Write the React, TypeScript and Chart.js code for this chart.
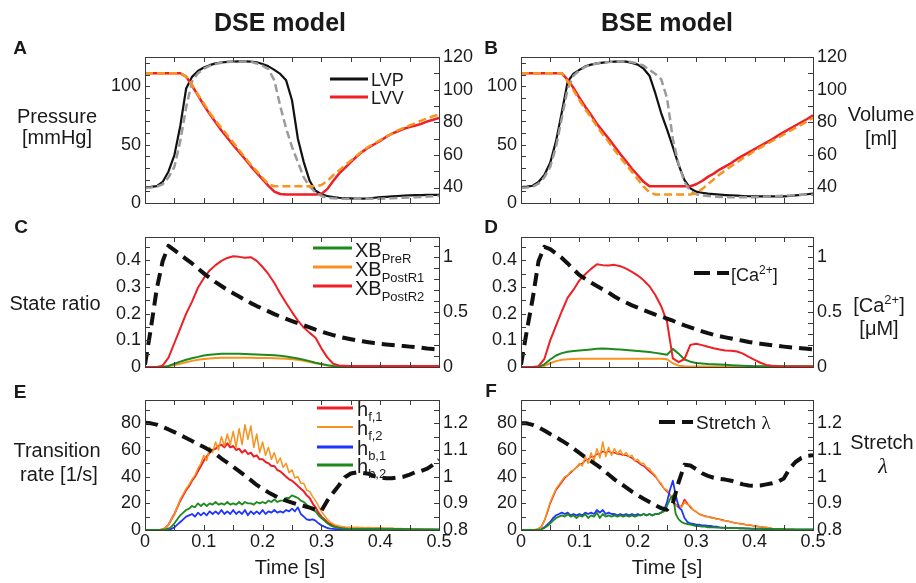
import React, { useEffect, useRef } from "react";
import { Chart, registerables } from "chart.js";

Chart.register(...registerables);

const W = 916;
const H = 583;
const FONT = '"Liberation Sans", Arial, Helvetica, sans-serif';
const TEXT = "#1a1a1a";

const BLACK = "#111111";
const GRAY = "#9a9a9a";
const RED = "#ee1f25";
const ORANGE = "#f7931e";
const GREEN = "#1d8a1d";
const BLUE = "#1f35ff";

// ---------- time grids (s) ----------
const TIME_01 = Array.from({ length: 51 }, (_, i) => +(i * 0.01).toFixed(2));
const TIME_005 = Array.from({ length: 101 }, (_, i) => +(i * 0.005).toFixed(3));

// ---------- tick labels ----------
const X_TICKS = [0, 0.1, 0.2, 0.3, 0.4, 0.5];
const PRESSURE_TICKS = [0, 50, 100];
const VOLUME_TICKS = [40, 60, 80, 100, 120];
const RATIO_TICKS = [0, 0.1, 0.2, 0.3, 0.4];
const CA_TICKS = [0, 0.5, 1];
const RATE_TICKS = [0, 20, 40, 60, 80];
const STRETCH_TICKS = [0.8, 0.9, 1, 1.1, 1.2];

// ---------- Panel A (DSE): pressure [mmHg] / volume [ml] ----------
const A_LVP = [13.6, 13.8, 14.5, 18, 27, 41, 66, 98, 108, 113, 116, 118, 119.5, 120.3, 120.8, 121.1, 121.3, 121.3, 121, 120.5, 119, 117, 114, 110.5, 105, 88, 55, 35, 19, 10.5, 7.5, 6, 5, 4.5, 4.2, 4, 3.8, 3.8, 4, 4.5, 5, 5.3, 5.7, 6, 6.3, 6.5, 6.7, 6.8, 6.9, 7, 7];
const A_LVP_MODEL = [13, 13.3, 14, 16, 22, 31, 53, 82, 104, 111, 115, 117.5, 119, 120, 120.7, 121, 121.2, 121.2, 120.8, 119.5, 117.5, 114.5, 105, 83, 64, 48, 35, 22, 14, 9, 6, 4.5, 4, 3.7, 3.6, 3.6, 3.6, 3.6, 3.6, 3.7, 3.7, 3.8, 4, 4.2, 4.5, 4.7, 5, 5.2, 5.5, 5.7, 6];
const A_LVV = [110, 110, 110, 110, 110, 110, 110, 108, 102.5, 96.5, 90.5, 85, 80, 75, 70.5, 66, 61.8, 57.5, 53, 49, 45, 41, 37.5, 36, 35.7, 35.7, 35.7, 35.7, 35.7, 35.7, 36, 39, 44, 48.5, 52, 55.5, 59, 62, 64.5, 66.5, 68.5, 71, 73, 74.5, 76, 77, 78, 79, 80.5, 81.5, 82.7];
const A_LVV_MODEL = [110, 110, 110, 110, 110, 110, 110, 108, 103, 97, 91.5, 86, 81, 76.5, 72, 67.5, 63, 58.5, 54, 50, 46, 42, 40.8, 40.8, 40.8, 40.8, 40.8, 40.8, 40.8, 40.8, 41.5, 44, 47.5, 50.5, 53.5, 56.5, 59.5, 62.5, 65, 67, 69, 71, 73, 75, 76.5, 78, 79.5, 81, 82.5, 83.7, 84.7];

// ---------- Panel B (BSE) ----------
const B_LVP = [13.6, 14, 14.8, 18, 24, 34.5, 53, 78, 104, 110.8, 114, 117, 118.5, 119.5, 120.2, 120.7, 121, 121.3, 121, 120, 118.5, 115, 109, 94, 77, 63, 48, 32.5, 19.5, 12.5, 9.7, 8.8, 8, 7.6, 7.2, 6.8, 6.5, 6.3, 6, 5.8, 5.7, 5.7, 5.7, 5.7, 5.7, 5.7, 6, 6.5, 7, 7.5, 8];
const B_LVP_MODEL = [13, 13.3, 14, 16.5, 22, 31, 48, 73, 98, 109, 113.5, 116.5, 118.5, 119.5, 120.3, 120.8, 121.1, 121.3, 121.2, 120.5, 119.5, 117.5, 114, 110.5, 106, 90, 55, 33, 18, 10, 7.5, 6.5, 6, 5.5, 5.2, 5, 5, 5, 5, 5, 5, 5.2, 5.5, 5.7, 6, 6.2, 6.5, 6.7, 7, 7, 7];
const B_LVV = [110, 110, 110, 110, 110, 110, 110, 110, 106, 101, 95, 89.5, 84.5, 79, 74.5, 70, 65.3, 60.5, 56, 51.5, 47.5, 43.5, 40.8, 40.8, 40.8, 40.8, 40.8, 40.8, 40.8, 40.8, 42, 44, 46.5, 48.5, 51, 53, 55, 57.5, 59.5, 61.5, 63.5, 65.5, 67.5, 69.5, 71.8, 74, 76, 78, 80, 82, 84.3];
const B_LVV_MODEL = [110, 110, 110, 110, 110, 110, 110, 110, 105, 99.5, 93.5, 88, 83, 77.5, 72.5, 68, 63, 58.5, 54, 49.5, 45, 40.5, 37, 35.7, 35.7, 35.7, 35.7, 35.7, 35.7, 35.7, 36.5, 39, 42, 45, 48, 50.5, 53, 55.5, 58, 60, 62.5, 64.5, 66.5, 68.5, 70.5, 72.5, 74.5, 76.5, 78.5, 80.5, 82.7];

// ---------- Panel C (DSE): state ratio / [Ca2+] ----------
const C_CA = [0.02, 0.35, 0.71, 0.96, 1.1, 1.06, 1.02, 0.98, 0.94, 0.895, 0.85, 0.81, 0.77, 0.735, 0.7, 0.67, 0.64, 0.61, 0.58, 0.553, 0.53, 0.505, 0.48, 0.458, 0.437, 0.417, 0.398, 0.378, 0.36, 0.34, 0.322, 0.305, 0.29, 0.275, 0.263, 0.252, 0.242, 0.233, 0.225, 0.217, 0.211, 0.205, 0.2, 0.195, 0.19, 0.185, 0.18, 0.175, 0.168, 0.163, 0.158];
const C_POSTR2 = [0, 0, 0, 0.005, 0.035, 0.09, 0.145, 0.2, 0.245, 0.297, 0.333, 0.362, 0.382, 0.398, 0.409, 0.415, 0.413, 0.41, 0.412, 0.398, 0.375, 0.348, 0.315, 0.276, 0.24, 0.206, 0.174, 0.148, 0.128, 0.11, 0.07, 0.036, 0.012, 0.006, 0.005, 0.004, 0.004, 0.004, 0.004, 0.004, 0.004, 0.004, 0.004, 0.004, 0.004, 0.004, 0.004, 0.004, 0.004, 0.004, 0.004];
const C_PRER = [0, 0, 0, 0, 0.004, 0.012, 0.02, 0.027, 0.033, 0.038, 0.043, 0.046, 0.048, 0.05, 0.05, 0.05, 0.05, 0.049, 0.048, 0.047, 0.046, 0.045, 0.044, 0.042, 0.039, 0.036, 0.032, 0.027, 0.022, 0.016, 0.011, 0.007, 0.004, 0.003, 0.002, 0.002, 0.002, 0.002, 0.002, 0.002, 0.002, 0.002, 0.002, 0.002, 0.002, 0.002, 0.002, 0.002, 0.002, 0.002, 0.002];
const C_POSTR1 = [0, 0, 0, 0, 0.002, 0.007, 0.012, 0.018, 0.023, 0.027, 0.03, 0.032, 0.034, 0.035, 0.035, 0.035, 0.035, 0.035, 0.035, 0.034, 0.034, 0.034, 0.033, 0.032, 0.031, 0.029, 0.027, 0.023, 0.019, 0.014, 0.01, 0.006, 0.003, 0.002, 0.002, 0.002, 0.002, 0.002, 0.002, 0.002, 0.002, 0.002, 0.002, 0.002, 0.002, 0.002, 0.002, 0.002, 0.002, 0.002, 0.002];

// ---------- Panel D (BSE) ----------
const D_CA = [0.02, 0.33, 0.62, 0.96, 1.09, 1.07, 1.03, 0.99, 0.94, 0.885, 0.835, 0.8, 0.765, 0.735, 0.705, 0.675, 0.64, 0.61, 0.585, 0.559, 0.538, 0.517, 0.496, 0.476, 0.458, 0.44, 0.42, 0.398, 0.377, 0.36, 0.342, 0.324, 0.307, 0.292, 0.28, 0.269, 0.259, 0.248, 0.238, 0.227, 0.219, 0.212, 0.205, 0.198, 0.191, 0.185, 0.18, 0.175, 0.17, 0.165, 0.16];
const D_POSTR2 = [0, 0, 0, 0.003, 0.03, 0.1, 0.155, 0.21, 0.26, 0.29, 0.325, 0.348, 0.368, 0.385, 0.382, 0.381, 0.383, 0.378, 0.369, 0.357, 0.343, 0.325, 0.303, 0.27, 0.228, 0.17, 0.032, 0.018, 0.03, 0.083, 0.087, 0.082, 0.076, 0.07, 0.066, 0.062, 0.061, 0.058, 0.05, 0.038, 0.027, 0.016, 0.008, 0.005, 0.003, 0.002, 0.002, 0.002, 0.002, 0.002, 0.002];
const D_PRER = [0, 0, 0, 0, 0.01, 0.028, 0.043, 0.052, 0.057, 0.06, 0.062, 0.064, 0.066, 0.068, 0.069, 0.068, 0.067, 0.066, 0.064, 0.062, 0.06, 0.058, 0.056, 0.053, 0.05, 0.046, 0.068, 0.05, 0.028, 0.02, 0.015, 0.013, 0.011, 0.01, 0.009, 0.008, 0.007, 0.006, 0.005, 0.004, 0.003, 0.003, 0.003, 0.003, 0.003, 0.003, 0.003, 0.003, 0.003, 0.003, 0.003];
const D_POSTR1 = [0, 0, 0, 0, 0.004, 0.014, 0.022, 0.027, 0.029, 0.03, 0.031, 0.031, 0.031, 0.031, 0.031, 0.031, 0.031, 0.031, 0.031, 0.031, 0.031, 0.031, 0.031, 0.031, 0.031, 0.029, 0.014, 0.005, 0.003, 0.002, 0.002, 0.002, 0.002, 0.002, 0.002, 0.002, 0.002, 0.002, 0.002, 0.002, 0.002, 0.002, 0.002, 0.002, 0.002, 0.002, 0.002, 0.002, 0.002, 0.002, 0.002];

// ---------- Panel E (DSE): transition rates [1/s] (0.005 s grid) / stretch (0.01 s grid) ----------
const E_HF1 = [0, 0, 0, 0, 0, 0, 0.5, 1.5, 4, 8, 12, 17, 22, 26, 30, 33, 37, 40, 44, 48, 52, 55, 58, 60, 61, 63, 64, 62, 65, 62, 63, 60, 61, 58, 60, 57, 58, 55, 56, 53, 53, 51, 50, 48, 48, 45, 44, 42, 40, 38, 37, 35, 33, 31, 29, 26, 24, 20, 17, 13, 10, 8, 6, 4.5, 3.5, 2.5, 2, 1.8, 1.5, 1.4, 1.3, 1.4, 1.2, 1.3, 1.2, 1.3, 1.2, 1.2, 1.1, 1.2, 1.1, 1, 1, 0.9, 0.9, 0.8, 0.8, 0.7, 0.6, 0.6, 0.5, 0.4, 0.4, 0.3, 0.3, 0.2, 0.2, 0.1, 0.1, 0, 0];
const E_HF2 = [0, 0, 0, 0, 0, 0, 0.5, 1.5, 4, 8, 12, 17, 23, 27, 31, 34, 38, 41, 46, 50, 56, 52, 62, 58, 66, 60, 70, 63, 72, 64, 74, 62, 76, 64, 79, 68, 78, 62, 72, 58, 66, 56, 62, 53, 58, 50, 54, 47, 50, 43, 45, 39, 40, 35, 35, 30, 29, 25, 22, 18, 14, 11, 8, 6, 4.5, 3.5, 3, 2.5, 2.2, 2, 2.1, 1.9, 2, 1.8, 1.9, 1.7, 1.8, 1.6, 1.7, 1.5, 1.6, 1.5, 1.4, 1.4, 1.3, 1.2, 1.2, 1.1, 1, 1, 0.9, 0.8, 0.7, 0.6, 0.5, 0.4, 0.3, 0.2, 0.1, 0, 0];
const E_HB1 = [0, 0, 0, 0, 0, 0, 0, 0, 0.3, 0.8, 2, 4, 6, 8, 10, 11, 12, 10, 13, 11, 13, 11, 14, 12, 14, 12, 15, 12, 14, 12, 15, 12, 14, 12, 15, 11, 14, 12, 14, 12, 15, 12, 14, 13, 15, 13, 14, 13, 15, 14, 16, 14, 17, 12, 10, 8, 7.5, 8, 7, 5, 3.5, 2.5, 1.5, 1, 0.8, 0.6, 0.6, 0.6, 0.6, 0.6, 0.6, 0.6, 0.6, 0.6, 0.6, 0.6, 0.6, 0.4, 0.4, 0.4, 0.4, 0.4, 0.4, 0.4, 0.4, 0.4, 0.4, 0.4, 0.4, 0.2, 0.2, 0.2, 0.2, 0.2, 0.2, 0.2, 0.2, 0.2, 0.2, 0.2, 0.2];
const E_HB2 = [0, 0, 0, 0, 0, 0, 0, 0.5, 1, 2.5, 5, 8, 11, 13, 15, 16, 18, 17, 20, 18, 20, 18, 20, 19, 21, 19, 20, 19, 21, 19, 20, 19, 21, 19, 21, 20, 20, 19, 21, 20, 21, 20, 22, 21, 23, 21, 22, 22, 24, 24, 26, 25, 24, 22, 21, 19, 17, 15, 14, 11, 9, 7, 5, 3.5, 2.5, 2, 1.5, 1.2, 1, 0.8, 0.8, 0.8, 0.8, 0.8, 0.8, 0.8, 0.8, 0.8, 0.8, 0.8, 0.8, 0.6, 0.6, 0.6, 0.6, 0.6, 0.6, 0.6, 0.6, 0.6, 0.6, 0.4, 0.4, 0.4, 0.4, 0.4, 0.4, 0.4, 0.4, 0.4, 0.4];
const E_STRETCH = [1.202, 1.2, 1.195, 1.186, 1.177, 1.167, 1.156, 1.145, 1.134, 1.122, 1.111, 1.099, 1.085, 1.068, 1.053, 1.037, 1.021, 1.004, 0.987, 0.969, 0.955, 0.941, 0.929, 0.918, 0.91, 0.903, 0.896, 0.89, 0.884, 0.877, 0.872, 0.91, 0.94, 0.968, 0.998, 1.012, 1.016, 1.014, 1.011, 1.002, 0.997, 0.994, 0.994, 0.997, 1.0, 1.008, 1.017, 1.022, 1.03, 1.045, 1.063];

// ---------- Panel F (BSE) ----------
const F_HF1 = [0, 0, 0, 0, 0, 0.3, 1, 2.5, 7, 13, 20, 25, 30, 33, 36, 39, 41, 43, 45, 47, 49, 50, 52, 53, 55, 55, 57, 57, 59, 58, 59, 58, 58, 57, 57, 56, 56, 55, 54, 52, 51, 49, 48, 46, 44, 42, 40, 37, 34, 31, 29, 26, 22, 19, 17, 18, 23, 20, 17, 15, 13.5, 12, 11, 10.5, 10, 9.5, 9, 8.5, 8, 7.5, 7, 6.5, 6, 5.5, 5, 4.8, 4.5, 4, 3.8, 3.3, 3, 2.7, 2.4, 2.1, 1.8, 1.5, 1.2, 1, 0.8, 0.6, 0.5, 0.4, 0.3, 0.3, 0.2, 0.2, 0.1, 0.1, 0, 0, 0];
const F_HF2 = [0, 0, 0, 0, 0, 0.3, 1, 2.5, 7, 14, 21, 26, 31, 34, 37, 40, 41, 44, 45, 47, 50, 48, 55, 50, 58, 52, 61, 54, 66, 55, 62, 56, 61, 57, 60, 56, 58, 55, 56, 52, 53, 50, 50, 47, 46, 43, 41, 37, 35, 31, 30, 27, 22, 18, 19, 17, 21, 19, 18, 15, 14, 12, 11.5, 10, 10, 9, 9, 8, 8, 7, 7, 6.5, 6, 5.5, 5, 4.5, 4.5, 4, 4, 3.5, 3, 2.8, 2.5, 2.2, 2, 1.5, 1.2, 1, 0.8, 0.6, 0.5, 0.4, 0.3, 0.3, 0.2, 0.2, 0.1, 0.1, 0, 0, 0];
const F_HB1 = [0, 0, 0, 0, 0, 0, 0, 0.5, 2, 4, 6, 9, 11, 12, 13, 12, 13, 11, 12, 11, 12, 11, 13, 12, 13, 12, 15, 13, 15, 12, 13, 12, 12, 11, 12, 11, 12, 11, 12, 11, 12, 11, 12, 11, 12, 11, 12, 12, 13, 15, 21, 30, 37, 26, 17, 15, 9, 6, 5, 4.5, 4, 4, 3.5, 3.5, 3, 3, 2.5, 2.5, 2, 1.8, 1.8, 1.6, 1.6, 1.4, 1.4, 1.2, 1.2, 1, 1, 0.9, 0.9, 0.8, 0.8, 0.7, 0.7, 0.6, 0.6, 0.5, 0.5, 0.4, 0.4, 0.3, 0.3, 0.3, 0.3, 0.3, 0.3, 0.3, 0.3, 0.3, 0.3];
const F_HB2 = [0, 0, 0, 0, 0, 0, 0, 0.5, 1.5, 3, 5, 7, 9, 10, 11, 10, 12, 10, 11, 9, 11, 10, 12, 9, 11, 10, 13, 9, 12, 10, 11, 10, 11, 10, 11, 10, 11, 10, 11, 10, 11, 11, 12, 11, 12, 11, 12, 12, 13, 14, 18, 23, 26, 12, 8, 6, 5, 4.5, 4, 3.5, 3, 3, 2.5, 2.5, 2, 2, 2, 1.8, 1.8, 1.6, 1.6, 1.5, 1.5, 1.4, 1.4, 1.3, 1.3, 1.2, 1.2, 1.1, 1.1, 1, 1, 0.9, 0.9, 0.8, 0.8, 0.7, 0.7, 0.6, 0.6, 0.5, 0.5, 0.5, 0.5, 0.5, 0.5, 0.5, 0.5, 0.5, 0.5];
const F_STRETCH = [1.2, 1.2, 1.194, 1.185, 1.173, 1.16, 1.148, 1.135, 1.121, 1.105, 1.089, 1.073, 1.058, 1.043, 1.027, 1.008, 0.99, 0.975, 0.96, 0.944, 0.93, 0.917, 0.905, 0.893, 0.882, 0.876, 0.9, 0.98, 1.045, 1.042, 1.028, 1.013, 1.003, 0.996, 0.992, 0.989, 0.985, 0.978, 0.971, 0.967, 0.966, 0.967, 0.971, 0.975, 0.981, 0.993, 1.03, 1.055, 1.07, 1.078, 1.08];

// ---------- frame + inward tick marks ----------
const frameTicks = {
  id: "frameTicks",
  afterDraw(chart: any, _args: any, opts: any) {
    const { ctx, chartArea: a, scales } = chart;
    const len = 5;
    ctx.save();
    ctx.strokeStyle = "#3a3a3a";
    ctx.lineWidth = 1;
    const each = (scale: any, step: number, fn: (p: number) => void) => {
      if (!scale || !step) return;
      const k0 = Math.ceil(scale.min / step - 1e-6);
      const k1 = Math.floor(scale.max / step + 1e-6);
      for (let k = k0; k <= k1; k++) fn(Math.round(scale.getPixelForValue(k * step)) + 0.5);
    };
    ctx.beginPath();
    each(scales.x, opts.x, (px) => {
      ctx.moveTo(px, a.bottom);
      ctx.lineTo(px, a.bottom - len);
      ctx.moveTo(px, a.top);
      ctx.lineTo(px, a.top + len);
    });
    each(scales.y, opts.y, (py) => {
      ctx.moveTo(a.left, py);
      ctx.lineTo(a.left + len, py);
    });
    each(scales.y1, opts.y1, (py) => {
      ctx.moveTo(a.right, py);
      ctx.lineTo(a.right - len, py);
    });
    ctx.stroke();
    ctx.strokeRect(Math.round(a.left) + 0.5, Math.round(a.top) + 0.5, Math.round(a.right - a.left), Math.round(a.bottom - a.top));
    ctx.restore();
  },
};
Chart.register(frameTicks as any);

function series(label: string, t: number[], v: number[], color: string, width: number, axis: string, order: number, dash: number[] = []) {
  return {
    label,
    data: t.map((x, i) => ({ x, y: v[i] })),
    borderColor: color,
    backgroundColor: color,
    borderWidth: width,
    borderDash: dash,
    yAxisID: axis,
    pointRadius: 0,
    pointHoverRadius: 0,
    fill: false,
    tension: 0,
    order,
    borderJoinStyle: "round",
  };
}

type Axis = { min: number; max: number; ticks: number[]; minor: number };
type Spec = { rect: { l: number; t: number; r: number; b: number }; showX: boolean; left: Axis; right: Axis; datasets: any[] };

const Y_AXIS_W = 60;
const X_AXIS_H = 30;

function makeConfig(p: Spec): any {
  const tickFont = { family: FONT, size: 18 };
  const yAxis = (position: string, ax: Axis) => ({
    type: "linear",
    position,
    min: ax.min,
    max: ax.max,
    grid: { display: false, drawTicks: false },
    border: { display: false },
    ticks: { font: tickFont, color: TEXT, padding: 4, autoSkip: false, callback: (v: any) => String(v) },
    afterBuildTicks: (s: any) => {
      s.ticks = ax.ticks.map((value) => ({ value }));
    },
    afterFit: (s: any) => {
      s.width = Y_AXIS_W;
    },
  });
  const xH = p.showX ? X_AXIS_H : 0;
  return {
    type: "line",
    data: { datasets: p.datasets },
    options: {
      responsive: false,
      maintainAspectRatio: false,
      animation: false,
      devicePixelRatio: 1,
      events: [],
      layout: { padding: { left: p.rect.l - Y_AXIS_W, top: p.rect.t, right: W - p.rect.r - Y_AXIS_W, bottom: H - p.rect.b - xH } },
      plugins: {
        legend: { display: false },
        tooltip: { enabled: false },
        frameTicks: { x: 0.05, y: p.left.minor, y1: p.right.minor },
      },
      scales: {
        x: {
          type: "linear",
          min: 0,
          max: 0.5,
          display: p.showX,
          grid: { display: false, drawTicks: false },
          border: { display: false },
          ticks: { font: tickFont, color: TEXT, padding: 1, autoSkip: false, maxRotation: 0, callback: (v: any) => String(v) },
          afterBuildTicks: (s: any) => {
            s.ticks = X_TICKS.map((value) => ({ value }));
          },
          afterFit: (s: any) => {
            s.height = xH;
          },
        },
        y: yAxis("left", p.left),
        y1: yAxis("right", p.right),
      },
    },
  };
}

const PRESS_AX: Axis = { min: 0, max: 125, ticks: PRESSURE_TICKS, minor: 10 };
const VOL_AX: Axis = { min: 30.5, max: 120, ticks: VOLUME_TICKS, minor: 10 };
const RATIO_AX: Axis = { min: 0, max: 0.4875, ticks: RATIO_TICKS, minor: 0.05 };
const CA_AX: Axis = { min: 0, max: 1.18, ticks: CA_TICKS, minor: 0.1 };
const RATE_AX: Axis = { min: 0, max: 97.5, ticks: RATE_TICKS, minor: 10 };
const STRETCH_AX: Axis = { min: 0.8, max: 1.2875, ticks: STRETCH_TICKS, minor: 0.05 };

const LEFT_COL = { l: 145, r: 439 };
const RIGHT_COL = { l: 521, r: 813 };

const PANELS: (() => Spec)[] = [
  () => ({
    rect: { ...LEFT_COL, t: 57, b: 203 },
    showX: false,
    left: PRESS_AX,
    right: VOL_AX,
    datasets: [
      series("LVV model", TIME_01, A_LVV_MODEL, ORANGE, 2.5, "y1", 0, [8, 4]),
      series("LVP model", TIME_01, A_LVP_MODEL, GRAY, 2.5, "y", 1, [8, 4]),
      series("LVV", TIME_01, A_LVV, RED, 2.5, "y1", 2),
      series("LVP", TIME_01, A_LVP, BLACK, 2.2, "y", 3),
    ],
  }),
  () => ({
    rect: { ...RIGHT_COL, t: 57, b: 203 },
    showX: false,
    left: PRESS_AX,
    right: VOL_AX,
    datasets: [
      series("LVV model", TIME_01, B_LVV_MODEL, ORANGE, 2.5, "y1", 0, [8, 4]),
      series("LVP model", TIME_01, B_LVP_MODEL, GRAY, 2.5, "y", 1, [8, 4]),
      series("LVV", TIME_01, B_LVV, RED, 2.5, "y1", 2),
      series("LVP", TIME_01, B_LVP, BLACK, 2.2, "y", 3),
    ],
  }),
  () => ({
    rect: { ...LEFT_COL, t: 237, b: 367 },
    showX: false,
    left: RATIO_AX,
    right: CA_AX,
    datasets: [
      series("[Ca2+]", TIME_01, C_CA, BLACK, 4, "y1", 0, [13, 7]),
      series("XB PostR2", TIME_01, C_POSTR2, RED, 2, "y", 1),
      series("XB PreR", TIME_01, C_PRER, GREEN, 2, "y", 2),
      series("XB PostR1", TIME_01, C_POSTR1, ORANGE, 2, "y", 3),
    ],
  }),
  () => ({
    rect: { ...RIGHT_COL, t: 237, b: 367 },
    showX: false,
    left: RATIO_AX,
    right: CA_AX,
    datasets: [
      series("[Ca2+]", TIME_01, D_CA, BLACK, 4, "y1", 0, [13, 7]),
      series("XB PostR2", TIME_01, D_POSTR2, RED, 2, "y", 1),
      series("XB PreR", TIME_01, D_PRER, GREEN, 2, "y", 2),
      series("XB PostR1", TIME_01, D_POSTR1, ORANGE, 2, "y", 3),
    ],
  }),
  () => ({
    rect: { ...LEFT_COL, t: 400, b: 530 },
    showX: true,
    left: RATE_AX,
    right: STRETCH_AX,
    datasets: [
      series("Stretch", TIME_01, E_STRETCH, BLACK, 4, "y1", 0, [13, 7]),
      series("hb2", TIME_005, E_HB2, GREEN, 1.8, "y", 1),
      series("hb1", TIME_005, E_HB1, BLUE, 1.8, "y", 2),
      series("hf2", TIME_005, E_HF2, ORANGE, 1.5, "y", 3),
      series("hf1", TIME_005, E_HF1, RED, 2, "y", 4),
    ],
  }),
  () => ({
    rect: { ...RIGHT_COL, t: 400, b: 530 },
    showX: true,
    left: RATE_AX,
    right: STRETCH_AX,
    datasets: [
      series("Stretch", TIME_01, F_STRETCH, BLACK, 4, "y1", 0, [13, 7]),
      series("hb2", TIME_005, F_HB2, GREEN, 1.8, "y", 1),
      series("hb1", TIME_005, F_HB1, BLUE, 1.8, "y", 2),
      series("hf2", TIME_005, F_HF2, ORANGE, 1.5, "y", 3),
      series("hf1", TIME_005, F_HF1, RED, 1.5, "y", 4),
    ],
  }),
];

function PanelChart({ make }: { make: () => Spec }) {
  const ref = useRef<HTMLCanvasElement>(null);
  useEffect(() => {
    if (!ref.current) return;
    const chart = new Chart(ref.current, makeConfig(make()));
    return () => chart.destroy();
  }, [make]);
  return <canvas ref={ref} width={W} height={H} style={{ position: "absolute", left: 0, top: 0, width: W, height: H }} />;
}

function Txt({ x, y, size = 20, bold = false, left = false, italic = false, family, children }: any) {
  return (
    <div
      style={{
        position: "absolute",
        left: x,
        top: y,
        transform: left ? "translate(0,-50%)" : "translate(-50%,-50%)",
        fontSize: size,
        fontWeight: bold ? 700 : 400,
        fontStyle: italic ? "italic" : "normal",
        fontFamily: family || FONT,
        lineHeight: 1,
        whiteSpace: "nowrap",
        color: TEXT,
      }}
    >
      {children}
    </div>
  );
}

const Sub = ({ children, size = 13, dy = 6 }: any) => (
  <span style={{ fontSize: size, position: "relative", top: dy }}>{children}</span>
);
const Sup = ({ children, size = 12, dy = -7 }: any) => (
  <span style={{ fontSize: size, position: "relative", top: dy }}>{children}</span>
);

export default function App() {
  return (
    <div style={{ position: "absolute", left: 0, top: 0, width: W, height: H, background: "#fff", overflow: "hidden", fontFamily: FONT }}>
      {PANELS.map((m, i) => (
        <PanelChart key={i} make={m} />
      ))}

      <svg width={W} height={H} style={{ position: "absolute", left: 0, top: 0 }}>
        <line x1={330} y1={79} x2={368} y2={79} stroke={BLACK} strokeWidth={3} />
        <line x1={330} y1={97} x2={368} y2={97} stroke={RED} strokeWidth={3} />
        <line x1={313} y1={248} x2={352} y2={248} stroke={GREEN} strokeWidth={3} />
        <line x1={313} y1={267} x2={352} y2={267} stroke={ORANGE} strokeWidth={3} />
        <line x1={313} y1={286} x2={352} y2={286} stroke={RED} strokeWidth={3} />
        <line x1={694} y1={273} x2={729} y2={273} stroke={BLACK} strokeWidth={4} strokeDasharray="16 7" />
        <line x1={317} y1={408} x2={353} y2={408} stroke={RED} strokeWidth={3} />
        <line x1={317} y1={427} x2={353} y2={427} stroke={ORANGE} strokeWidth={2} />
        <line x1={317} y1={447} x2={353} y2={447} stroke={BLUE} strokeWidth={3} />
        <line x1={317} y1={465} x2={353} y2={465} stroke={GREEN} strokeWidth={3} />
        <line x1={659} y1={422} x2={693} y2={422} stroke={BLACK} strokeWidth={4} strokeDasharray="16 7" />
      </svg>

      <Txt x={280} y={22} size={25} bold>DSE model</Txt>
      <Txt x={667} y={22} size={25} bold>BSE model</Txt>

      <Txt x={20} y={47} size={19} bold>A</Txt>
      <Txt x={491} y={47} size={19} bold>B</Txt>
      <Txt x={21} y={226} size={19} bold>C</Txt>
      <Txt x={491} y={226} size={19} bold>D</Txt>
      <Txt x={20} y={391} size={19} bold>E</Txt>
      <Txt x={491} y={390} size={19} bold>F</Txt>

      <Txt x={57} y={116}>Pressure</Txt>
      <Txt x={57} y={137}>[mmHg]</Txt>
      <Txt x={881} y={114}>Volume</Txt>
      <Txt x={881} y={138}>[ml]</Txt>
      <Txt x={55} y={303}>State ratio</Txt>
      <Txt x={879} y={305}>
        [Ca<Sup size={13} dy={-8}>2+</Sup>]
      </Txt>
      <Txt x={879} y={328}>[μM]</Txt>
      <Txt x={57} y={450}>Transition</Txt>
      <Txt x={59} y={474}>rate [1/s]</Txt>
      <Txt x={882} y={442}>Stretch</Txt>
      <Txt x={883} y={466} size={22} italic family='"Liberation Serif", "DejaVu Serif", serif'>λ</Txt>
      <Txt x={290} y={567}>Time [s]</Txt>
      <Txt x={667} y={567}>Time [s]</Txt>

      <Txt x={371} y={80} size={18} left>LVP</Txt>
      <Txt x={371} y={98} size={18} left>LVV</Txt>

      <Txt x={355} y={250} left>
        XB<Sub>PreR</Sub>
      </Txt>
      <Txt x={355} y={269} left>
        XB<Sub>PostR1</Sub>
      </Txt>
      <Txt x={355} y={288} left>
        XB<Sub>PostR2</Sub>
      </Txt>

      <Txt x={731} y={275} size={18} left>
        [Ca<Sup>2+</Sup>]
      </Txt>

      <Txt x={357} y={409} left>
        h<Sub dy={5}>f,1</Sub>
      </Txt>
      <Txt x={357} y={428} left>
        h<Sub dy={5}>f,2</Sub>
      </Txt>
      <Txt x={357} y={448} left>
        h<Sub dy={5}>b,1</Sub>
      </Txt>
      <Txt x={357} y={466} left>
        h<Sub dy={5}>b,2</Sub>
      </Txt>

      <Txt x={696} y={422} size={19} left>
        Stretch <span style={{ fontFamily: '"Liberation Serif", "DejaVu Serif", serif' }}>λ</span>
      </Txt>
    </div>
  );
}
